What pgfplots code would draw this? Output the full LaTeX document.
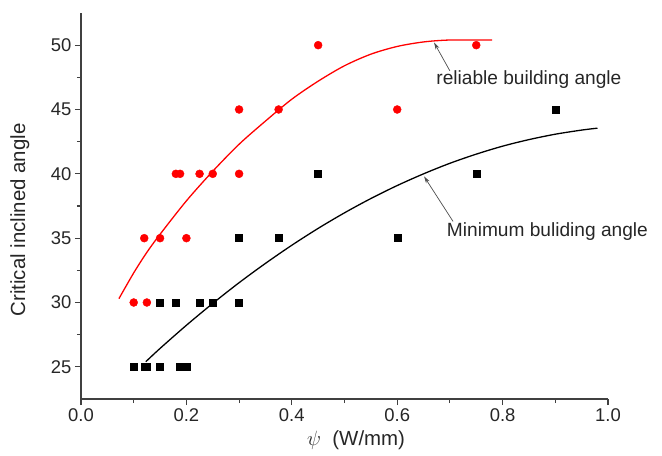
\documentclass[border=0pt]{standalone}
\usepackage{fontspec}
\setmainfont{Liberation Sans}
\usepackage{pgfplots}
\pgfplotsset{compat=1.18}
\usetikzlibrary{arrows.meta}

\begin{document}
\begin{tikzpicture}
\begin{axis}[
  scale only axis,
  width=527bp, height=386bp,
  xmin=0, xmax=1.0,
  ymin=22.5, ymax=52.5,
  axis lines*=left,
  axis line style={line width=1.1pt, black!75},
  xtick={0,0.2,0.4,0.6,0.8,1.0},
  ytick={25,30,35,40,45,50},
  minor x tick num=1,
  minor y tick num=1,
  tick align=outside,
  major tick length=6bp,
  minor tick length=4bp,
  tick style={line width=1.1pt, black!75},
  xticklabel style={/pgf/number format/.cd, fixed, fixed zerofill, precision=1},
  /pgf/number format/assume math mode=true,
  tick label style={font=\fontsize{18.5}{22}\selectfont, black!85},
  label style={font=\fontsize{20.5}{24}\selectfont, black!85},
  ylabel={Critical inclined angle},
  ylabel style={at={(axis description cs:-0.116,0.464)}, anchor=center, rotate=0},
  xlabel={$\psi$\ \ (W/mm)},
  xlabel style={at={(axis description cs:0.522,0)}, yshift=-41bp, anchor=center},
  clip=false,
]

% reliable building angle (red)
\addplot[only marks, mark=*, mark size=4bp, color=red] coordinates {
  (0.10,30) (0.125,30)
  (0.12,35) (0.15,35) (0.20,35)
  (0.18,40) (0.188,40) (0.225,40) (0.25,40) (0.30,40)
  (0.30,45) (0.375,45) (0.60,45)
  (0.45,50) (0.75,50)
};
\addplot[red, line width=1.3pt, smooth] coordinates {
  (0.072,30.3) (0.10,32.3) (0.125,33.9) (0.15,35.3) (0.20,37.9)
  (0.25,40.2) (0.30,42.3) (0.35,44.1) (0.40,45.8) (0.45,47.2)
  (0.50,48.4) (0.55,49.3) (0.60,49.9) (0.65,50.25) (0.70,50.4) (0.78,50.4)
};

% minimum building angle (black)
\addplot[only marks, mark=square*, mark size=3.5bp, color=black] coordinates {
  (0.10,25) (0.12,25) (0.125,25) (0.15,25) (0.188,25) (0.20,25)
  (0.15,30) (0.18,30) (0.225,30) (0.25,30) (0.30,30)
  (0.30,35) (0.375,35) (0.60,35)
  (0.45,40) (0.75,40)
  (0.90,45)
};
\addplot[black, line width=1.3pt, smooth] coordinates {
  (0.123,25.4) (0.15,26.43) (0.20,28.23) (0.25,29.93) (0.30,31.54)
  (0.35,33.04) (0.40,34.45) (0.45,35.76) (0.50,36.97) (0.55,38.08)
  (0.60,39.09) (0.65,40.0) (0.70,40.82) (0.75,41.53) (0.80,42.15)
  (0.85,42.66) (0.90,43.08) (0.95,43.40) (0.98,43.55)
};

% annotations
\draw[-{Stealth[length=7bp,width=4bp]}, black!70, line width=0.7pt]
  (axis cs:0.70,48.0) -- (axis cs:0.67,50.2);
\node[anchor=west, inner sep=0pt, font=\fontsize{19.2}{23}\selectfont, black!85]
  at (axis cs:0.674,47.3) {reliable building angle};
\draw[-{Stealth[length=7bp,width=4bp]}, black!70, line width=0.7pt]
  (axis cs:0.706,36.3) -- (axis cs:0.651,39.8);
\node[anchor=west, inner sep=0pt, font=\fontsize{19.2}{23}\selectfont, black!85]
  at (axis cs:0.694,35.5) {Minimum buliding angle};
\end{axis}
\pgfresetboundingbox
\useasboundingbox ([shift={(-81bp,-57bp)}]current axis.south west)
  rectangle ([shift={(54bp,13bp)}]current axis.north east);
\end{tikzpicture}
\end{document}
